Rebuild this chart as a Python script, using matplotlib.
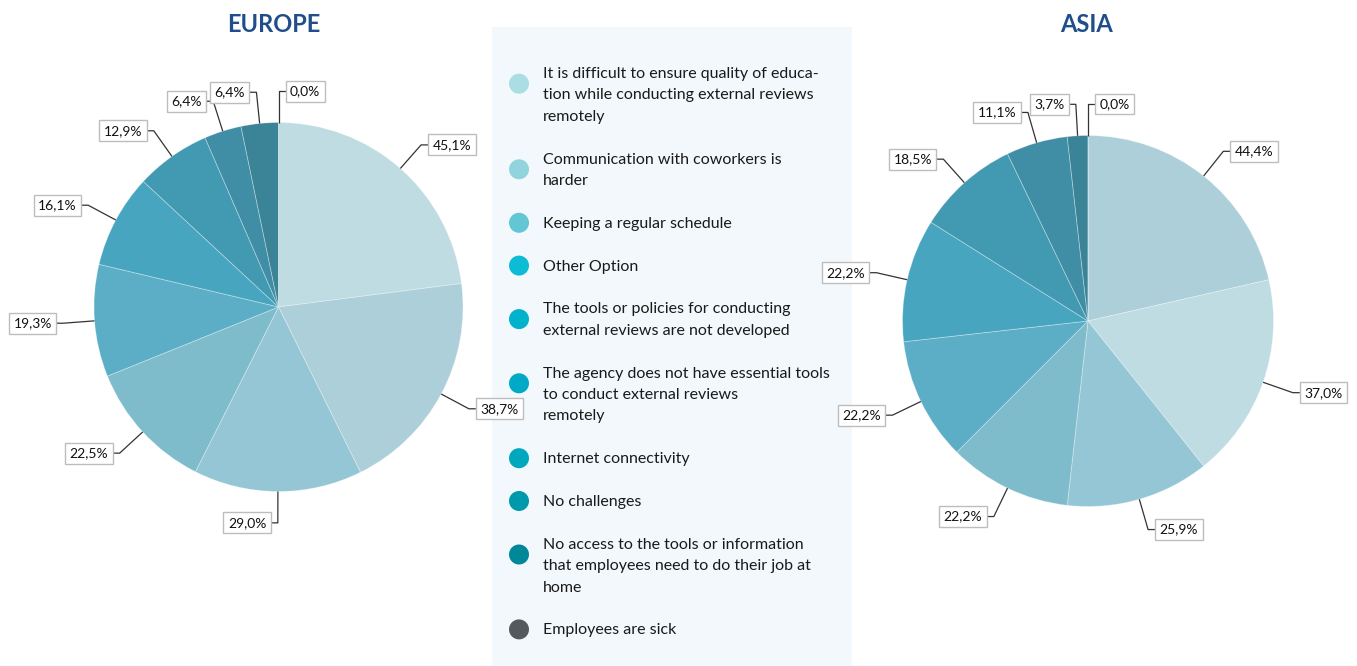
import matplotlib
matplotlib.use("Agg")
import matplotlib.pyplot as plt
import numpy as np
from matplotlib.patches import Rectangle, Circle

W, H = 1357, 666
plt.rcParams['font.family'] = ['Lato', 'DejaVu Sans']

# ---------------- data ----------------
legend_labels = [
    "It is difficult to ensure quality of educa-\ntion while conducting external reviews\nremotely",
    "Communication with coworkers is\nharder",
    "Keeping a regular schedule",
    "Other Option",
    "The tools or policies for conducting\nexternal reviews are not developed",
    "The agency does not have essential tools\nto conduct external reviews\nremotely",
    "Internet connectivity",
    "No challenges",
    "No access to the tools or information\nthat employees need to do their job at\nhome",
    "Employees are sick",
]
legend_colors = ["#abdde4", "#92d4de", "#62c6d5", "#0bbcd4", "#00b2cb",
                 "#00aac7", "#00a8bd", "#0098ab", "#008899", "#54595d"]

europe_values = [45.1, 38.7, 29.0, 22.5, 19.3, 16.1, 12.9, 6.4, 6.4, 0.0]
asia_values = [44.4, 37.0, 25.9, 22.2, 22.2, 22.2, 18.5, 11.1, 3.7, 0.0]

europe_colors = ["#bfdce3", "#accfd9", "#95c6d5", "#7ebccc", "#5caec6",
                 "#47a5bf", "#4299b2", "#3f8ea5", "#3b8396", "#37788a"]
asia_colors = ["#accfd9", "#bfdce3", "#95c6d5", "#7ebccc", "#5caec6",
               "#47a5bf", "#4299b2", "#3f8ea5", "#3b8396", "#37788a"]

titles = ["EUROPE", "ASIA"]

# ---------------- figure ----------------
fig = plt.figure(figsize=(W / 100, H / 100), dpi=100)
ax = fig.add_axes([0, 0, 1, 1])


def py(y):
    """pixel-from-top -> data y"""
    return H - y


def fmt(v):
    return f"{v:.1f}%".replace(".", ",")


def draw_pie(values, colors, cx, cy, R, title, title_x):
    wedges, _ = ax.pie(values, colors=colors, startangle=90, counterclock=False,
                       center=(cx, py(cy)), radius=R,
                       wedgeprops=dict(edgecolor=(1, 1, 1, 0.35), linewidth=0.6))
    for w, v in zip(wedges, values):
        mid = (w.theta1 + w.theta2) / 2.0
        th = np.deg2rad(mid)
        cw = (90 - mid) % 360
        right = cw < 180 - 1e-6 or cw > 359.9
        ux, uy = np.cos(th), np.sin(th)
        ax0, ay0 = cx + R * ux, py(cy) + R * uy
        ex, ey = cx + 1.17 * R * ux, py(cy) + 1.17 * R * uy
        sgn = 1 if right else -1
        bx = ex + sgn * 7
        ax.plot([ax0, ex, bx], [ay0, ey, ey], color="#333333", lw=0.9,
                solid_capstyle="butt", zorder=3)
        ax.text(bx + sgn * 4.5, ey, fmt(v), ha="left" if right else "right",
                va="center", fontsize=10, color="#111111", zorder=5,
                bbox=dict(boxstyle="square,pad=0.32", fc="white", ec="#bdbdbd", lw=1))
    ax.text(title_x, py(24), title, ha="center", va="center", fontsize=17,
            fontweight="bold", color="#1f4e8a")


draw_pie(europe_values, europe_colors, 278.5, 307, 184.5, titles[0], 274)
draw_pie(asia_values, asia_colors, 1088, 321, 185.5, titles[1], 1086)

# ---------------- legend panel ----------------
ax.add_patch(Rectangle((492, 0), 360, py(27.3), fc="#f3f8fc", ec="none", zorder=0))
pitch = 21.4
n_before = 0
for i, (lab, col) in enumerate(zip(legend_labels, legend_colors)):
    lines = lab.split("\n")
    y0 = 73 + pitch * (n_before + i)
    for k, ln in enumerate(lines):
        ax.text(543, py(y0 + k * pitch + 5), ln, ha="left", va="baseline",
                fontsize=11.5, color="#1a1a1a", zorder=4)
    cyc = y0 + (pitch / 2 if len(lines) > 1 else 0)
    ax.add_patch(Circle((519, py(cyc)), 10, fc=col, ec="none", zorder=4))
    n_before += len(lines)

ax.set_xlim(0, W)
ax.set_ylim(0, H)
ax.set_aspect("equal")
ax.axis("off")
fig.savefig("out.png", dpi=100, facecolor="white")
